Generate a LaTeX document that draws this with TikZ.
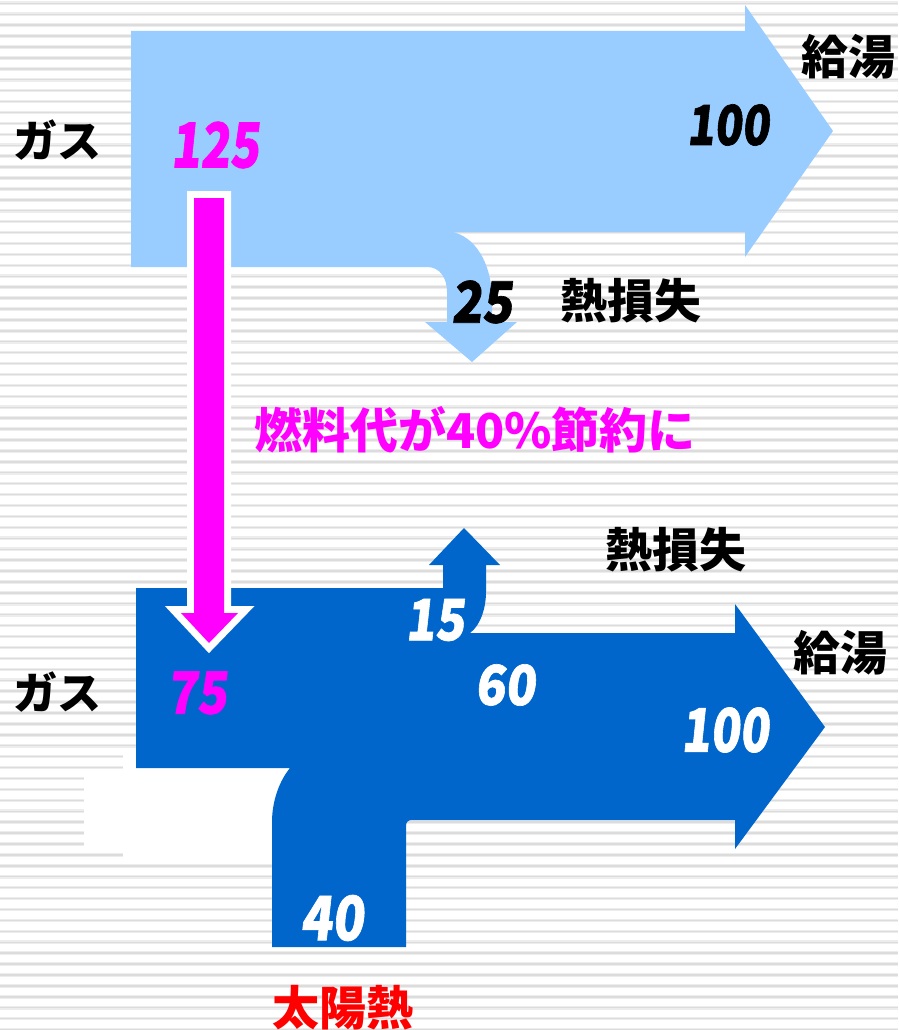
\documentclass[tikz,border=0pt]{standalone}
\usepackage{fontspec}
\newfontfamily\jp{Noto Sans CJK JP}
\newfontfamily\jpnum{Noto Sans CJK JP}[FakeSlant=0.13,FakeBold=1.2]
\definecolor{lightblue}{HTML}{99CCFF}
\definecolor{darkblue}{HTML}{0066CC}
\definecolor{stripeout}{HTML}{EDEDED}
\definecolor{stripein}{HTML}{DCDCDC}
\definecolor{saveclr}{HTML}{FF00FF}
\definecolor{solarred}{HTML}{FF0000}
\newcommand{\fsz}[1]{\fontsize{#1}{#1}\selectfont}
\begin{document}
\begin{tikzpicture}[x=1pt,y=-1pt,
  jtxt/.style={inner sep=0pt, font=\jp\bfseries},
  ntxt/.style={inner sep=0pt, font=\jpnum\bfseries},
  flowlight/.style={fill=lightblue},
  flowdark/.style={fill=darkblue}]
\useasboundingbox (0,0) rectangle (898,1030);
\fill[white] (0,0) rectangle (898,1030);
% background stripes
\foreach \k in {0,...,94}{
  \pgfmathsetmacro{\yy}{3.3+10.918*\k}
  \draw[stripeout, line width=3.6pt] (0,\yy) -- (898,\yy);
  \draw[stripein, line width=1.4pt] (0,\yy) -- (898,\yy);
}
% white patches
\fill[white] (84,769) rectangle (290,850);
\fill[white] (123,750) rectangle (290,858);
% upper (gas only) flow
\path[flowlight] (131,31) -- (745,31) -- (745,5) -- (833,131) -- (745,257) -- (745,232)
  -- (452,232) .. controls (474,236) and (492,262) .. (492,300) -- (492,322)
  -- (517,322) -- (472,362) -- (425,322) -- (447,322) -- (447,292)
  .. controls (447,278) and (440,267) .. (427,267) -- (131,267) -- cycle;
% lower (gas + solar) flow
\path[flowdark] (136,588) -- (443,588) -- (443,565) -- (429,565) -- (464,528) -- (500,565)
  -- (486,565) -- (486,592) .. controls (486,607) and (481,625) .. (470,633)
  -- (735,633) -- (735,604) -- (825,727) -- (735,849) -- (735,820)
  -- (412,820) .. controls (408,820) and (406,822) .. (406,826) -- (406,947)
  -- (272,947) -- (272,822) .. controls (272,800) and (280,780) .. (290,768)
  -- (136,768) -- cycle;
% magenta saving arrow
\path[draw=white, line width=14pt, line join=miter, miter limit=20]
  (194,198) -- (224,198) -- (224,613) -- (238,613) -- (209,643) -- (181,613) -- (194,613) -- cycle;
\fill[saveclr]
  (194,198) -- (224,198) -- (224,613) -- (238,613) -- (209,643) -- (181,613) -- (194,613) -- cycle;
% labels
\node[jtxt, font=\jp\bfseries\fsz{44}] (gas1) at (57,140) {ガス};
\node[ntxt, text=saveclr] (v125) at (215,145) {\scalebox{0.78}[1]{\fsz{62}125}};
\node[ntxt] (v100a) at (728,125) {\scalebox{0.82}[1]{\fsz{55}100}};
\node[jtxt, font=\jp\bfseries\fsz{47}] (kyuto1) at (848,57) {給湯};
\node[ntxt] (v25) at (482,302) {\scalebox{0.88}[1]{\fsz{57}25}};
\node[jtxt, font=\jp\bfseries\fsz{47}] (loss1) at (631,301) {熱損失};
\node[jtxt, font=\jp\bfseries\fsz{48}, text=saveclr] (saving) at (475,430) {燃料代が40\%節約に};
\node[jtxt, font=\jp\bfseries\fsz{47}] (loss2) at (676,550) {熱損失};
\node[jtxt, font=\jp\bfseries\fsz{47}] (kyuto2) at (840,653) {給湯};
\node[jtxt, font=\jp\bfseries\fsz{44}] (gas2) at (57,692) {ガス};
\node[ntxt, text=saveclr] (v75) at (197,693) {\scalebox{0.85}[1]{\fsz{58}75}};
\node[ntxt, text=white] (v15) at (435,620) {\scalebox{0.85}[1]{\fsz{57}15}};
\node[ntxt, text=white] (v60) at (505,685) {\scalebox{0.9}[1]{\fsz{55}60}};
\node[ntxt, text=white] (v100b) at (725,730) {\scalebox{0.8}[1]{\fsz{60}100}};
\node[ntxt, text=white] (v40) at (332,918) {\scalebox{0.85}[1]{\fsz{61}40}};
\node[jtxt, font=\jp\bfseries\fsz{47}, text=solarred] (solar) at (343,1008) {太陽熱};
\end{tikzpicture}
\end{document}
